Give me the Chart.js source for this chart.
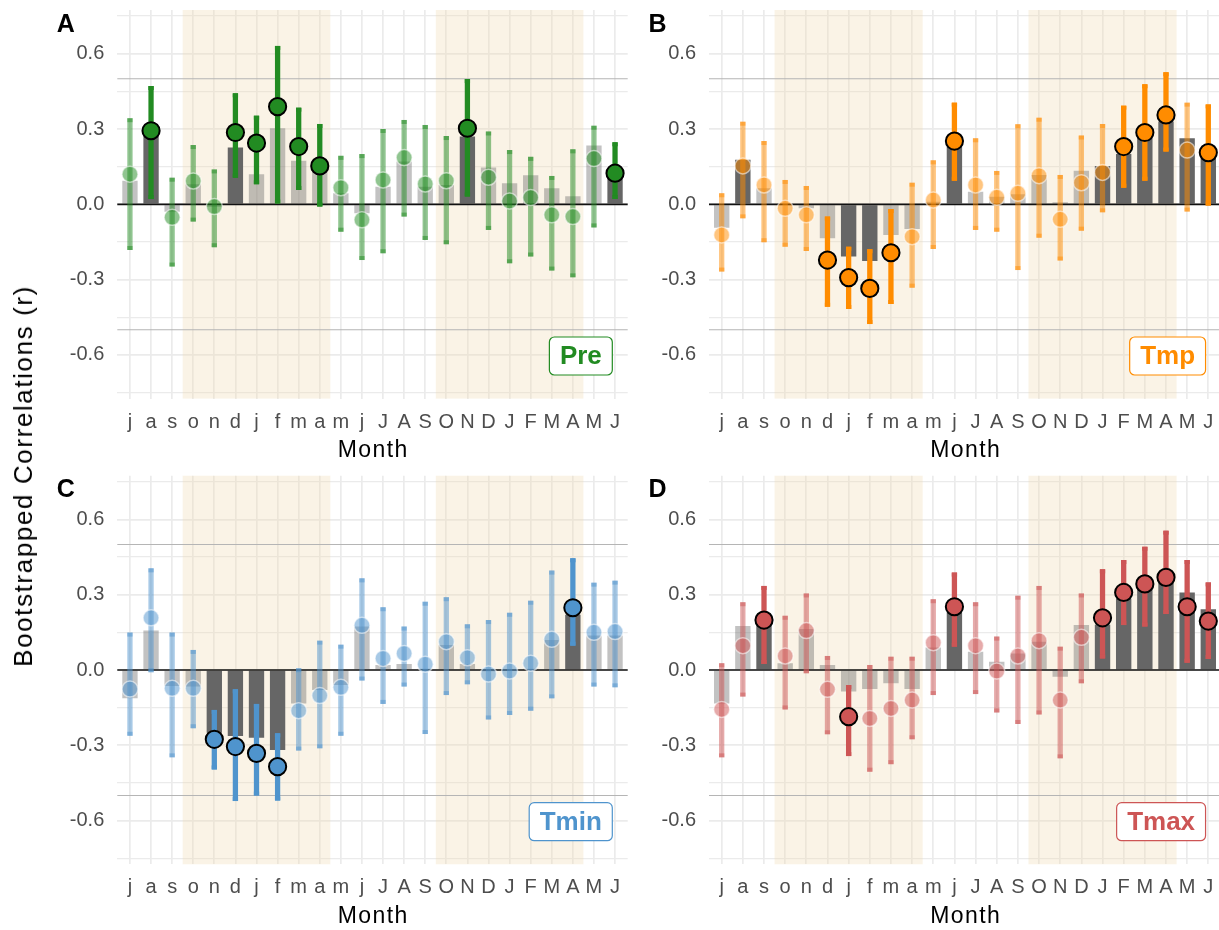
<!DOCTYPE html>
<html>
<head>
<meta charset="utf-8">
<script src="https://cdn.jsdelivr.net/npm/chart.js@4.4.1/dist/chart.umd.min.js"></script>
<style>
  html, body { margin: 0; padding: 0; background: #ffffff; overflow: hidden; }
  body { width: 1219px; height: 930px; position: relative; font-family: 'Liberation Sans', Arial, sans-serif; }
  .panel { position: absolute; }
  #ytitle {
    position: absolute; left: 22.8px; top: 476px;
    transform: translate(-50%, -50%) rotate(-90deg);
    font-size: 26px; letter-spacing: 1.6px; line-height: 1;
    white-space: nowrap; color: #000;
  }
</style>
</head>
<body>
<div class="panel" style="left:0;top:0;width:630px;height:465px"><canvas id="cPre"></canvas></div>
<div class="panel" style="left:630px;top:0;width:591px;height:465px"><canvas id="cTmp"></canvas></div>
<div class="panel" style="left:0;top:465px;width:630px;height:465px"><canvas id="cTmin"></canvas></div>
<div class="panel" style="left:630px;top:465px;width:591px;height:465px"><canvas id="cTmax"></canvas></div>
<div id="ytitle">Bootstrapped Correlations (r)</div>

<script>
// Months of the previous (lower case) and current (upper case) year
const months = ['j','a','s','o','n','d','j','f','m','a','m','j','J','A','S','O','N','D','J','F','M','A','M','J'];
// y-axis tick values (labelled every 0.3, minor lines in between)
const yTickValues = [-0.75, -0.6, -0.45, -0.3, -0.15, 0, 0.15, 0.3, 0.45, 0.6, 0.75];
// reference lines at |r| = 0.5
const refLines = [-0.5, 0.5];
// growing seasons (first and last month index of each shaded block)
const seasonFirst = [3, 15];
const seasonLast = [9, 21];

// ---- Precipitation ----
const preBar     = [0.094, 0.28, -0.03, 0.08, -0.01, 0.226, 0.12, 0.303, 0.173, 0.13, 0.044, -0.036, 0.07, 0.17, 0.07, 0.077, 0.27, 0.147, 0.084, 0.116, 0.064, 0.032, 0.234, 0.13];
const preBarSig  = [0, 1, 0, 0, 0, 1, 0, 0, 0, 0, 0, 0, 0, 0, 0, 0, 1, 0, 0, 0, 0, 0, 0, 1];
const preMid     = [0.12, 0.293, -0.052, 0.093, -0.009, 0.286, 0.244, 0.389, 0.23, 0.153, 0.066, -0.062, 0.097, 0.186, 0.081, 0.094, 0.303, 0.108, 0.013, 0.027, -0.042, -0.049, 0.182, 0.124];
const preMidSig  = [0, 1, 0, 0, 0, 1, 1, 1, 1, 1, 0, 0, 0, 0, 0, 0, 1, 0, 0, 0, 0, 0, 0, 1];
const preLow     = [-0.182, 0.021, -0.248, -0.069, -0.171, 0.106, 0.08, 0.003, 0.057, -0.009, -0.109, -0.222, -0.195, -0.049, -0.142, -0.159, 0.031, -0.102, -0.235, -0.208, -0.264, -0.291, -0.092, 0.021];
const preHigh    = [0.343, 0.471, 0.106, 0.236, 0.139, 0.442, 0.353, 0.631, 0.385, 0.32, 0.193, 0.2, 0.30, 0.336, 0.316, 0.272, 0.499, 0.29, 0.216, 0.189, 0.113, 0.219, 0.313, 0.247];

// ---- Mean temperature ----
const tmpBar     = [-0.093, 0.177, 0.064, -0.005, -0.016, -0.135, -0.208, -0.226, -0.122, -0.098, 0.01, 0.23, 0.05, 0.03, 0.04, 0.117, 0.008, 0.134, 0.153, 0.2, 0.27, 0.33, 0.263, 0.19];
const tmpBarSig  = [0, 1, 0, 0, 0, 0, 1, 1, 0, 0, 0, 1, 0, 0, 0, 0, 0, 0, 1, 1, 1, 1, 1, 1];
const tmpMid     = [-0.122, 0.153, 0.077, -0.016, -0.042, -0.222, -0.292, -0.335, -0.193, -0.129, 0.017, 0.252, 0.077, 0.028, 0.044, 0.114, -0.06, 0.086, 0.127, 0.23, 0.286, 0.356, 0.216, 0.206];
const tmpMidSig  = [0, 0, 0, 0, 0, 1, 1, 1, 1, 0, 0, 1, 0, 0, 0, 0, 0, 0, 0, 1, 1, 1, 0, 1];
const tmpLow     = [-0.268, -0.056, -0.151, -0.169, -0.186, -0.408, -0.417, -0.477, -0.397, -0.332, -0.178, 0.094, -0.102, -0.109, -0.262, -0.133, -0.224, -0.105, -0.032, 0.066, 0.094, 0.21, -0.029, -0.005];
const tmpHigh    = [0.044, 0.329, 0.252, 0.097, 0.073, -0.049, -0.169, -0.179, -0.019, 0.086, 0.175, 0.405, 0.263, 0.133, 0.319, 0.345, 0.117, 0.274, 0.32, 0.393, 0.478, 0.526, 0.405, 0.398];

// ---- Minimum temperature ----
const tminBar    = [-0.113, 0.157, -0.064, -0.066, -0.25, -0.263, -0.27, -0.319, -0.133, -0.08, -0.06, 0.173, 0.02, 0.024, 0.005, 0.1, 0.024, -0.005, 0.003, 0.005, 0.12, 0.22, 0.137, 0.137];
const tminBarSig = [0, 0, 0, 0, 1, 1, 1, 1, 0, 0, 0, 0, 0, 0, 0, 0, 0, 0, 0, 0, 0, 1, 0, 0];
const tminMid    = [-0.076, 0.208, -0.073, -0.073, -0.276, -0.305, -0.332, -0.385, -0.162, -0.102, -0.069, 0.178, 0.046, 0.066, 0.023, 0.113, 0.049, -0.016, -0.004, 0.027, 0.122, 0.248, 0.15, 0.153];
const tminMidSig = [0, 0, 0, 0, 1, 1, 1, 1, 0, 0, 0, 0, 0, 0, 0, 0, 0, 0, 0, 0, 0, 1, 0, 0];
const tminLow    = [-0.262, -0.009, -0.348, -0.232, -0.396, -0.522, -0.5, -0.52, -0.321, -0.312, -0.262, -0.042, -0.135, -0.066, -0.255, -0.1, -0.057, -0.197, -0.179, -0.162, -0.113, 0.097, -0.066, -0.069];
const tminHigh   = [0.149, 0.405, 0.149, 0.08, -0.159, -0.077, -0.135, -0.252, 0.007, 0.117, 0.101, 0.365, 0.25, 0.173, 0.272, 0.29, 0.182, 0.199, 0.228, 0.276, 0.396, 0.445, 0.348, 0.356];

// ---- Maximum temperature ----
const tmaxBar    = [-0.133, 0.175, 0.18, 0.027, 0.163, 0.02, -0.086, -0.076, -0.053, -0.076, 0.09, 0.23, 0.073, 0.033, 0.066, 0.113, -0.027, 0.179, 0.18, 0.285, 0.33, 0.35, 0.309, 0.242];
const tmaxBarSig = [0, 0, 1, 0, 0, 0, 0, 0, 0, 0, 0, 1, 0, 0, 0, 0, 0, 0, 1, 1, 1, 1, 1, 1];
const tmaxMid    = [-0.157, 0.097, 0.199, 0.056, 0.157, -0.077, -0.186, -0.193, -0.153, -0.12, 0.109, 0.252, 0.097, -0.004, 0.056, 0.117, -0.12, 0.13, 0.208, 0.309, 0.343, 0.369, 0.252, 0.195];
const tmaxMidSig = [0, 0, 1, 0, 0, 0, 1, 0, 0, 0, 0, 1, 0, 0, 0, 0, 0, 0, 1, 1, 1, 1, 1, 1];
const tmaxLow    = [-0.348, -0.106, 0.024, -0.157, -0.013, -0.256, -0.343, -0.405, -0.375, -0.276, -0.1, 0.093, -0.096, -0.169, -0.215, -0.177, -0.352, -0.053, 0.046, 0.179, 0.173, 0.223, 0.029, 0.044];
const tmaxHigh   = [0.027, 0.27, 0.335, 0.216, 0.305, 0.056, -0.06, 0.02, 0.053, 0.053, 0.282, 0.388, 0.27, 0.133, 0.296, 0.335, 0.093, 0.305, 0.401, 0.438, 0.491, 0.555, 0.438, 0.349];

const FONT = "'Liberation Sans', Arial, Helvetica, sans-serif";
const TICK_GREY = '#4d4d4d';

function rgba(hex, a) {
  const n = parseInt(hex.slice(1), 16);
  return 'rgba(' + ((n >> 16) & 255) + ',' + ((n >> 8) & 255) + ',' + (n & 255) + ',' + a + ')';
}
function isMajor(v) {
  return Math.abs(Math.round(v / 0.3) * 0.3 - v) < 1e-6;
}
function noLabelPadding(s) {
  s.paddingTop = 0; s.paddingBottom = 0; s.paddingLeft = 0; s.paddingRight = 0;
}

// Shading, reference lines, zero line, bar end caps and panel annotations
const decor = {
  id: 'decor',
  beforeDatasetsDraw(chart) {
    const { ctx, chartArea: a, scales: { x, y } } = chart;
    ctx.save();
    ctx.fillStyle = 'rgba(240,218,176,0.32)';
    seasonFirst.forEach((s, k) => {
      const x0 = x.getPixelForValue(s - 0.5);
      const x1 = x.getPixelForValue(seasonLast[k] + 0.5);
      ctx.fillRect(x0, a.top, x1 - x0, a.bottom - a.top);
    });
    ctx.strokeStyle = '#b5b5b5';
    ctx.lineWidth = 1.1;
    refLines.forEach(v => {
      const py = y.getPixelForValue(v);
      ctx.beginPath(); ctx.moveTo(a.left, py); ctx.lineTo(a.right, py); ctx.stroke();
    });
    ctx.restore();
  },
  afterDatasetDraw(chart, args) {
    const { ctx, chartArea: a, scales: { y } } = chart;
    const ds = chart.data.datasets[args.index];
    if (ds.label === 'bar') {
      const py = y.getPixelForValue(0);
      ctx.save();
      ctx.strokeStyle = '#111111';
      ctx.lineWidth = 1.7;
      ctx.beginPath(); ctx.moveTo(a.left, py); ctx.lineTo(a.right, py); ctx.stroke();
      ctx.restore();
    } else if (ds.label === 'ci') {
      ctx.save();
      args.meta.data.forEach((el, i) => {
        const top = Math.min(el.y, el.base), bot = Math.max(el.y, el.base);
        const w = el.width, cap = 4;
        ctx.fillStyle = ds.backgroundColor[i];
        ctx.fillRect(el.x - w / 2, top, w, cap);
        ctx.fillRect(el.x - w / 2, bot - cap, w, cap);
      });
      ctx.restore();
    }
  },
  afterDraw(chart, args, opts) {
    const { ctx, chartArea: a, scales: { x, y } } = chart;
    ctx.save();
    // panel letter
    ctx.fillStyle = '#000';
    ctx.font = 'bold 25px ' + FONT;
    ctx.textAlign = 'center';
    ctx.textBaseline = 'alphabetic';
    ctx.fillText(opts.letter, a.left - 51.5, a.top + 21.7);
    // x-axis title
    ctx.font = '23px ' + FONT;
    if ('letterSpacing' in ctx) ctx.letterSpacing = '1.4px';
    ctx.fillText('Month', (a.left + a.right) / 2 + 0.7, a.bottom + 58.7);
    if ('letterSpacing' in ctx) ctx.letterSpacing = '0px';
    // variable label
    ctx.font = 'bold 26px ' + FONT;
    const tw = ctx.measureText(opts.name).width;
    const w = tw + 21, h = 38;
    const right = x.getPixelForValue(opts.labelX);
    const bottom = y.getPixelForValue(opts.labelY);
    ctx.beginPath();
    ctx.roundRect(right - w, bottom - h, w, h, 5);
    ctx.fillStyle = '#ffffff';
    ctx.fill();
    ctx.strokeStyle = opts.color;
    ctx.lineWidth = 1.2;
    ctx.stroke();
    ctx.fillStyle = opts.color;
    ctx.textBaseline = 'middle';
    ctx.fillText(opts.name, right - w / 2, bottom - h / 2 + 1);
    ctx.restore();
  }
};

function buildPanel(canvasId, p) {
  const xy = arr => arr.map((v, i) => ({ x: i, y: v }));
  return new Chart(document.getElementById(canvasId), {
    type: 'bar',
    data: {
      datasets: [
        {
          type: 'line', label: 'mid', order: 1, showLine: false,
          data: xy(p.mid),
          pointRadius: p.midSig.map(s => s ? 8.6 : 8),
          pointHoverRadius: p.midSig.map(s => s ? 8.6 : 8),
          pointBackgroundColor: p.midSig.map(s => s ? p.color : rgba(p.color, 0.5)),
          pointBorderColor: p.midSig.map(s => s ? '#000000' : 'rgba(255,255,255,0.55)'),
          pointBorderWidth: p.midSig.map(s => s ? 2 : 1.5),
          pointHoverBorderWidth: p.midSig.map(s => s ? 2 : 1.5)
        },
        {
          label: 'ci', order: 2, grouped: false,
          data: p.low.map((lo, i) => ({ x: i, y: [lo, p.high[i]] })),
          backgroundColor: p.midSig.map(s => s ? p.color : rgba(p.color, 0.5)),
          barPercentage: 0.25, categoryPercentage: 1, borderWidth: 0
        },
        {
          label: 'bar', order: 3, grouped: false,
          data: xy(p.bar),
          backgroundColor: p.barSig.map(s => s ? '#666666' : 'rgba(102,102,102,0.4)'),
          barPercentage: 0.727, categoryPercentage: 1, borderWidth: 0
        }
      ]
    },
    options: {
      responsive: true,
      maintainAspectRatio: false,
      animation: false,
      devicePixelRatio: 1,
      events: [],
      layout: { autoPadding: false, padding: { top: p.padTop, right: p.padRight, left: 0, bottom: 0 } },
      plugins: {
        legend: { display: false },
        tooltip: { enabled: false },
        decor: { letter: p.letter, name: p.name, color: p.color, labelX: 22.87, labelY: -0.68 }
      },
      scales: {
        x: {
          type: 'linear', min: -0.6, max: 23.6, offset: false,
          afterBuildTicks: s => { s.ticks = months.map((m, i) => ({ value: i })); },
          afterFit: s => { s.height = p.xAxisH; noLabelPadding(s); },
          ticks: {
            autoSkip: false, maxRotation: 0, minRotation: 0, padding: 11.5,
            color: TICK_GREY, font: { family: FONT, size: 20 },
            callback: v => months[v]
          },
          grid: { color: '#ebebeb', lineWidth: 1.7, drawTicks: false, offset: false },
          border: { display: false }
        },
        y: {
          type: 'linear', min: -0.774, max: 0.774,
          afterBuildTicks: s => { s.ticks = yTickValues.map(v => ({ value: v })); },
          afterFit: s => { s.width = p.yAxisW; noLabelPadding(s); },
          ticks: {
            padding: 13, color: TICK_GREY, font: { family: FONT, size: 20 },
            callback: v => isMajor(v) ? v.toFixed(1) : ''
          },
          grid: {
            color: '#ebebeb', drawTicks: false,
            lineWidth: c => (c.tick && isMajor(c.tick.value)) ? 1.7 : 1.2
          },
          border: { display: false }
        }
      }
    },
    plugins: [decor]
  });
}

buildPanel('cPre', { letter: 'A', name: 'Pre', color: '#228B22',
  bar: preBar, barSig: preBarSig, mid: preMid, midSig: preMidSig, low: preLow, high: preHigh,
  padTop: 10, padRight: 2.3, xAxisH: 66.4, yAxisW: 117.3 });
buildPanel('cTmp', { letter: 'B', name: 'Tmp', color: '#FF8C00',
  bar: tmpBar, barSig: tmpBarSig, mid: tmpMid, midSig: tmpMidSig, low: tmpLow, high: tmpHigh,
  padTop: 10, padRight: 0, xAxisH: 66.4, yAxisW: 79 });
buildPanel('cTmin', { letter: 'C', name: 'Tmin', color: '#4F94CD',
  bar: tminBar, barSig: tminBarSig, mid: tminMid, midSig: tminMidSig, low: tminLow, high: tminHigh,
  padTop: 10.7, padRight: 2.3, xAxisH: 65.7, yAxisW: 117.3 });
buildPanel('cTmax', { letter: 'D', name: 'Tmax', color: '#CD5555',
  bar: tmaxBar, barSig: tmaxBarSig, mid: tmaxMid, midSig: tmaxMidSig, low: tmaxLow, high: tmaxHigh,
  padTop: 10.7, padRight: 0, xAxisH: 65.7, yAxisW: 79 });
</script>
</body>
</html>
